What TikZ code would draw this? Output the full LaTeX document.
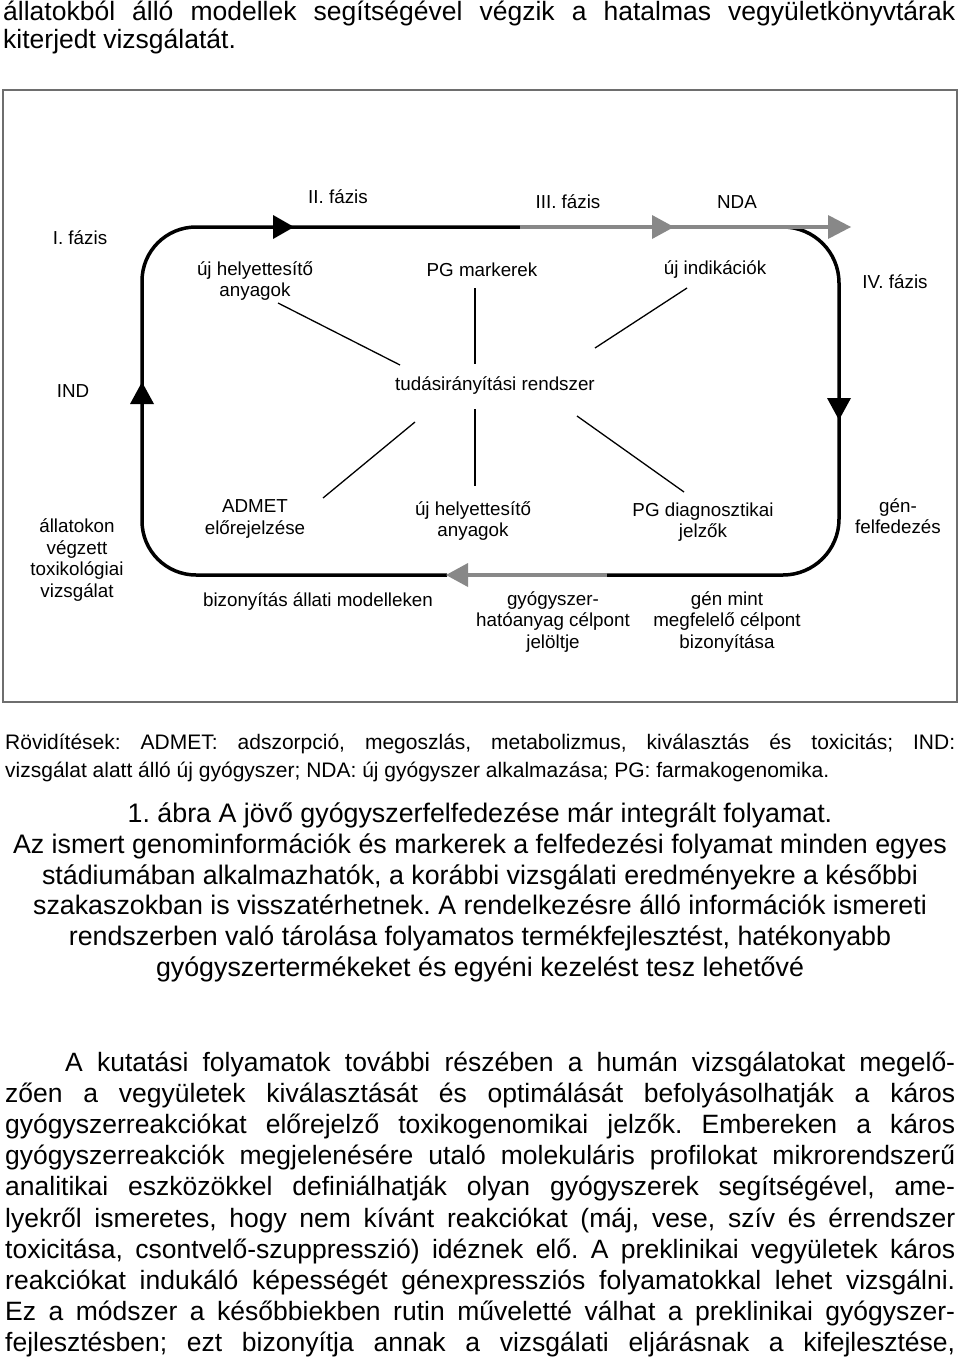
\documentclass[tikz,border=0pt]{standalone}
\usepackage{fontspec}
\setmainfont{Liberation Sans}
\frenchspacing
\definecolor{arrowgray}{RGB}{136,136,136}
\definecolor{framegray}{RGB}{110,110,110}
\begin{document}
\frenchspacing
\begin{tikzpicture}[x=1pt,y=-1pt,
  lbl/.style={inner sep=0pt, align=center, font=\fontsize{18.8}{21.5}\selectfont},
  bodyline/.style={inner sep=0pt, anchor=base west, font=\fontsize{26.5}{31}\selectfont},
  abbrline/.style={inner sep=0pt, anchor=base west, font=\fontsize{21}{28}\selectfont},
  capline/.style={inner sep=0pt, anchor=base, font=\fontsize{26.8}{31}\selectfont},
  loopline/.style={line width=3.5pt},
  spoke/.style={line width=1.3pt}]
\useasboundingbox (0,0) rectangle (960,1359);
\fill[white] (0,0) rectangle (960,1359);

% text above the figure
\node[bodyline] (t1) at (3,21) {\makebox[952pt][s]{állatokból álló modellek segítségével végzik a hatalmas vegyületkönyvtárak}};
\node[bodyline] (t2) at (3,49) {kiterjedt vizsgálatát.};

% frame
\draw[framegray, line width=1.2pt] (3,90) rectangle (957,702);

% loop
\draw[loopline, rounded corners=54pt] (520,227) -- (142,227) -- (142,575) -- (447,575);
\draw[loopline, rounded corners=56pt] (783,227) -- (839,227) -- (839,575) -- (607,575);
\draw[loopline, arrowgray] (520,227) -- (830,227);
\draw[loopline, arrowgray] (607,575) -- (466,575);
% arrowheads
\fill (273,215) -- (294,227) -- (273,239) -- cycle;
\fill (130,404) -- (142,382) -- (154,404) -- cycle;
\fill (827,398) -- (839,420) -- (851,398) -- cycle;
\fill[arrowgray] (652,215) -- (674,227) -- (652,239) -- cycle;
\fill[arrowgray] (828,215) -- (851,227) -- (828,239) -- cycle;
\fill[arrowgray] (468,563) -- (446,575) -- (468,587) -- cycle;

% labels
\node[lbl] (faz1) at (80,238) {I. fázis};
\node[lbl] (faz2) at (338,197) {II. fázis};
\node[lbl] (faz3) at (568,202) {III. fázis};
\node[lbl] (nda) at (737,202) {NDA};
\node[lbl] (faz4) at (895,282) {IV. fázis};
\node[lbl] (ujhely1) at (255,281) {új helyettesítő\\anyagok};
\node[lbl] (pgmark) at (482,270) {PG markerek};
\node[lbl] (ujind) at (715,270) {új indikációk};
\node[lbl] (ind) at (73,391) {IND};
\node[lbl] (tudas) at (495,386) {tudásirányítási rendszer};
\node[lbl] (admet) at (255,519) {ADMET\\előrejelzése};
\node[lbl] (ujhely2) at (473,521) {új helyettesítő\\anyagok};
\node[lbl] (pgdiag) at (703,522) {PG diagnosztikai\\jelzők};
\node[lbl] (genf) at (898,516) {gén-\\felfedezés};
\node[lbl] (allat) at (77,560) {állatokon\\végzett\\toxikológiai\\vizsgálat};
\node[lbl] (bizony) at (318,602) {bizonyítás állati modelleken};
\node[lbl] (gyogy) at (553,622) {gyógyszer-\\hatóanyag célpont\\jelöltje};
\node[lbl] (genmint) at (727,622) {gén mint\\megfelelő célpont\\bizonyítása};

% spokes
\coordinate (s1a) at (278,303); \coordinate (s1b) at (400,365);
\coordinate (s2a) at (475,288); \coordinate (s2b) at (475,364);
\coordinate (s3a) at (687,288); \coordinate (s3b) at (595,348);
\coordinate (s4a) at (415,422); \coordinate (s4b) at (323,498);
\coordinate (s5a) at (475,409); \coordinate (s5b) at (475,486);
\coordinate (s6a) at (577,416); \coordinate (s6b) at (684,492);
\draw[spoke] (s1a) -- (s1b);
\draw[spoke] (s2a) -- (s2b);
\draw[spoke] (s3a) -- (s3b);
\draw[spoke] (s4a) -- (s4b);
\draw[spoke] (s5a) -- (s5b);
\draw[spoke] (s6a) -- (s6b);

% abbreviations
\node[abbrline] (ab1) at (5,749) {\makebox[950pt][s]{Rövidítések: ADMET: adszorpció, megoszlás, metabolizmus, kiválasztás és toxicitás; IND:}};
\node[abbrline] (ab2) at (5,777) {vizsgálat alatt álló új gyógyszer; NDA: új gyógyszer alkalmazása; PG: farmakogenomika.};

% caption
\node[capline] (c1) at (480,822) {1. ábra A jövő gyógyszerfelfedezése már integrált folyamat.};
\node[capline] (c2) at (480,853) {Az ismert genominformációk és markerek a felfedezési folyamat minden egyes};
\node[capline] (c3) at (480,884) {stádiumában alkalmazhatók, a korábbi vizsgálati eredményekre a későbbi};
\node[capline] (c4) at (480,914) {szakaszokban is visszatérhetnek. A rendelkezésre álló információk ismereti};
\node[capline] (c5) at (480,945) {rendszerben való tárolása folyamatos termékfejlesztést, hatékonyabb};
\node[capline] (c6) at (480,976) {gyógyszertermékeket és egyéni kezelést tesz lehetővé};

% body paragraph
\node[bodyline] (b1) at (65,1071) {\makebox[890pt][s]{A kutatási folyamatok további részében a humán vizsgálatokat megelő-}};
\node[bodyline] (b2) at (5,1102.2) {\makebox[950pt][s]{zően a vegyületek kiválasztását és optimálását befolyásolhatják a káros}};
\node[bodyline] (b3) at (5,1133.4) {\makebox[950pt][s]{gyógyszerreakciókat előrejelző toxikogenomikai jelzők. Embereken a káros}};
\node[bodyline] (b4) at (5,1164.6) {\makebox[950pt][s]{gyógyszerreakciók megjelenésére utaló molekuláris profilokat mikrorendszerű}};
\node[bodyline] (b5) at (5,1195.8) {\makebox[950pt][s]{analitikai eszközökkel definiálhatják olyan gyógyszerek segítségével, ame-}};
\node[bodyline] (b6) at (5,1227) {\makebox[950pt][s]{lyekről ismeretes, hogy nem kívánt reakciókat (máj, vese, szív és érrendszer}};
\node[bodyline] (b7) at (5,1258.2) {\makebox[950pt][s]{toxicitása, csontvelő-szuppresszió) idéznek elő. A preklinikai vegyületek káros}};
\node[bodyline] (b8) at (5,1289.4) {\makebox[950pt][s]{reakciókat indukáló képességét génexpressziós folyamatokkal lehet vizsgálni.}};
\node[bodyline] (b9) at (5,1320.6) {\makebox[950pt][s]{Ez a módszer a későbbiekben rutin műveletté válhat a preklinikai gyógyszer-}};
\node[bodyline] (b10) at (5,1351.8) {\makebox[950pt][s]{fejlesztésben; ezt bizonyítja annak a vizsgálati eljárásnak a kifejlesztése,}};
\end{tikzpicture}
\end{document}
